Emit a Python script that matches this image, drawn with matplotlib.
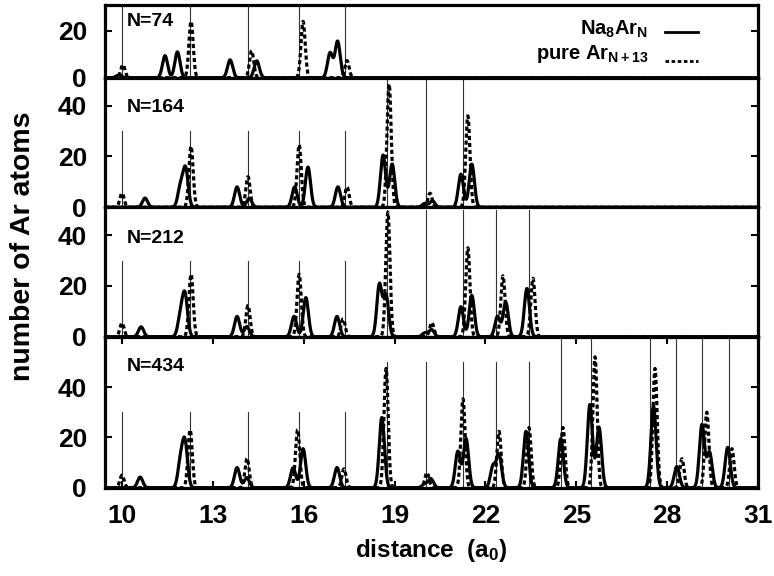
import matplotlib

matplotlib.use("Agg")
import matplotlib.pyplot as plt
import numpy as np

plt.rcParams.update(
    {
        "font.family": ["Liberation Sans", "DejaVu Sans"],
        "font.weight": "bold",
        "mathtext.fontset": "custom",
        "mathtext.rm": "Liberation Sans:bold",
        "mathtext.it": "Liberation Sans:bold",
        "mathtext.bf": "Liberation Sans:bold",
        "mathtext.default": "rm",
    }
)

# shell radii (vertical guide lines) and the height each guide line reaches
SHELLS = [10.0, 12.25, 14.15, 15.85, 17.35, 18.75, 20.05, 21.25, 22.35, 23.45,
          24.5, 25.5, 27.45, 28.3, 29.15, 30.05]
SHELL_HEIGHT = [30, 30, 30, 30, 30, 50, 50, 50, 50, 50, 60, 60, 60, 60, 60, 60]
SHELLS_SHOWN = [5, 8, 10, 16]

PANEL_LABELS = ["N=74", "N=164", "N=212", "N=434"]
Y_MAX = [31, 51, 51, 60]
Y_TICKS = [[0, 20], [0, 20, 40], [0, 20, 40], [0, 20, 40]]

# Na8ArN peaks (centre, height) per panel
SOLID_POS = [
    [9.9, 11.42, 11.83, 13.57, 14.45, 16.87, 17.12],
    [10.76, 11.93, 12.1, 13.8, 14.2, 15.7, 16.14, 17.13, 18.62, 18.92, 20.0, 20.25, 21.19, 21.55],
    [10.63, 11.93, 12.08, 13.8, 14.12, 15.68, 16.07, 17.1, 18.5, 18.72, 20.0, 20.22, 21.19, 21.55,
     22.4, 22.67, 23.37],
    [10.6, 11.93, 12.08, 13.8, 14.12, 15.65, 15.98, 17.1, 18.58, 20.0, 20.2, 21.09, 21.36, 22.25,
     22.45, 23.34, 24.49, 25.45, 25.75, 27.55, 28.32, 29.15, 29.4, 30.0],
]
SOLID_H = [
    [1.2, 9.4, 11.0, 7.6, 7.2, 10.6, 15.5],
    [3.6, 8.0, 15.0, 8.0, 3.5, 8.0, 15.8, 8.0, 20.5, 17.0, 1.5, 2.5, 13.0, 17.0],
    [3.9, 8.0, 16.0, 8.0, 4.0, 8.0, 15.4, 8.0, 20.5, 16.0, 1.5, 2.8, 11.8, 16.3,
     8.0, 13.6, 19.0],
    [4.2, 10.0, 17.5, 8.0, 4.0, 7.9, 15.5, 8.0, 27.9, 1.5, 3.5, 14.4, 19.5, 8.4,
     13.0, 22.4, 19.5, 33.0, 24.0, 32.5, 8.4, 25.0, 14.0, 16.0],
]

# pure Ar(N+13) peaks (centre, height) per panel
DASH_POS = [
    [10.03, 12.28, 14.28, 15.98, 17.43],
    [10.0, 12.28, 14.16, 15.85, 17.43, 18.82, 20.17, 21.42],
    [10.0, 12.28, 14.16, 15.85, 17.3, 18.78, 20.23, 21.42, 22.58, 23.57],
    [10.0, 12.25, 14.13, 15.8, 17.33, 18.72, 20.07, 21.26, 22.45, 23.44, 24.56, 25.62,
     27.6, 28.49, 29.31, 30.14],
]
DASH_H = [
    [5.5, 24.0, 11.5, 24.0, 7.3],
    [5.5, 24.0, 12.0, 24.6, 8.0, 48.5, 5.5, 36.0],
    [5.4, 24.6, 12.3, 24.6, 7.0, 49.0, 5.6, 35.0, 24.0, 23.0],
    [5.0, 23.0, 11.7, 23.0, 7.5, 47.4, 6.0, 35.3, 22.4, 23.9, 23.9, 52.0,
     47.4, 11.5, 30.0, 15.5],
]

X_TICKS = [10, 13, 16, 19, 22, 25, 28, 31]
X_MIN, X_MAX = 9.44, 31.0


def profile(x, centres, heights, width):
    y = np.zeros_like(x)
    for c, h in zip(centres, heights):
        y += h * np.exp(-0.5 * ((x - c) / width) ** 2)
    return y


fig = plt.figure(figsize=(7.74, 5.76), dpi=100)
gs = fig.add_gridspec(4, 1, height_ratios=[72.7, 129.5, 129.5, 151], hspace=0,
                      left=0.1357, right=0.9793, top=0.9913, bottom=0.1533)

x = np.linspace(X_MIN, X_MAX, 4000)
label_y = [0.77, 0.77, 0.76, 0.80]
axes = []
for i in range(4):
    ax = fig.add_subplot(gs[i])
    axes.append(ax)
    for xs, hs in zip(SHELLS[:SHELLS_SHOWN[i]], SHELL_HEIGHT[:SHELLS_SHOWN[i]]):
        ax.plot([xs, xs], [0, min(hs, Y_MAX[i])], color="#333333", lw=0.8, zorder=1)
    ax.plot(x, profile(x, SOLID_POS[i], SOLID_H[i], 0.085), color="black", lw=2.3, zorder=3)
    ax.plot(x, profile(x, DASH_POS[i], DASH_H[i], 0.07), color="black", lw=2.3,
            linestyle=(0, (1.3, 0.9)), zorder=2)
    ax.set_xlim(X_MIN, X_MAX)
    ax.set_ylim(0, Y_MAX[i])
    ax.set_yticks(Y_TICKS[i])
    ax.tick_params(axis="y", direction="in", length=5, width=1.5, right=True,
                   labelsize=19, pad=13)
    for s in ax.spines.values():
        s.set_linewidth(2.3)
    ax.text(0.034, label_y[i], PANEL_LABELS[i], transform=ax.transAxes,
            fontsize=14, fontweight="bold", ha="left", va="center")
    if i < 3:
        ax.set_xticks([])
    else:
        ax.set_xticks(X_TICKS)
        ax.tick_params(axis="x", direction="in", length=5, width=1.5, top=True,
                       labelsize=19, pad=12)

# legend drawn by hand in the top panel
top = axes[0]
top.text(0.8315, 0.59, r"Na$_{8}$Ar$_{N}$", transform=top.transAxes, ha="right",
         va="baseline", fontsize=14.5, fontweight="bold")
top.text(0.8315, 0.257, r"pure Ar$_{N+13}$", transform=top.transAxes, ha="right",
         va="baseline", fontsize=14.5, fontweight="bold")
top.plot([0.8576, 0.9081], [0.633, 0.633], transform=top.transAxes, color="black", lw=2.0)
top.plot([0.8576, 0.9081], [0.23, 0.23], transform=top.transAxes, color="black", lw=2.0,
         linestyle=(0, (1.3, 0.9)))

axes[3].set_xlabel(r"distance  (a$_{0}$)", fontsize=17.5, fontweight="bold", labelpad=6)
fig.text(0.03, 0.573, "number of Ar atoms", rotation=90, ha="center", va="center",
         fontsize=20.5, fontweight="bold")

fig.savefig("out.png", dpi=100)
